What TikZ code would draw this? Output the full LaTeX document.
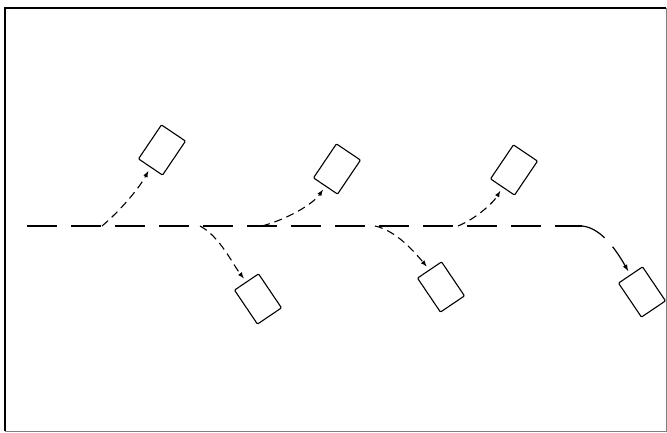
\documentclass[tikz,border=0pt]{standalone}
\usetikzlibrary{arrows}

\begin{document}
\begin{tikzpicture}[x=1pt,y=1pt,
		card/.style={draw, line width=1.1pt, rounded corners=1pt, minimum width=29pt, minimum height=41pt, inner sep=0pt},
		mainline/.style={line width=1.2pt, dash pattern=on 30pt off 14pt},
		branch/.style={line width=1.1pt, dash pattern=on 8pt off 5pt, -latex, shorten >=4pt, looseness=0.8}]
			\useasboundingbox (0,0) rectangle (667,433);
			% frame
			\draw[line width=1.3pt] (5,2) -- (5,425) -- (666,425);
			\draw[gray, line width=0.6pt] (5,2) -- (666,2) -- (666,425);
			% boxes
			\node[card, rotate=-34] (up1) at (162,283) {};
			\node[card, rotate=34] (lo1) at (258,134) {};
			\node[card, rotate=-34] (up2) at (337,264) {};
			\node[card, rotate=34] (lo2) at (441,146) {};
			\node[card, rotate=-34] (up3) at (514,263) {};
			\node[card, rotate=34] (lo3) at (642,141) {};
			% points on the line
			\coordinate (start) at (27,207);
			\coordinate (s1) at (102,207);
			\coordinate (s2) at (200,207);
			\coordinate (s3) at (262,207);
			\coordinate (s4) at (375,207);
			\coordinate (s5) at (458,207);
			\coordinate (bend) at (582,207);
			% main line
			\draw[mainline] (start) -- (bend);
			\draw[branch, line width=1.2pt, dash pattern=on 26pt off 12pt] (bend) to[out=-5, in=120] (lo3.north);
			% branches
			\draw[branch] (s1) to[out=40, in=-118] (up1.south);
			\draw[branch] (s2) to[out=-28, in=128] (lo1.north);
			\draw[branch] (s3) to[out=15, in=-125] (up2.south);
			\draw[branch] (s4) to[out=-12, in=130] (lo2.north);
			\draw[branch] (s5) to[out=22, in=-120] (up3.south);
		\end{tikzpicture}
\end{document}
